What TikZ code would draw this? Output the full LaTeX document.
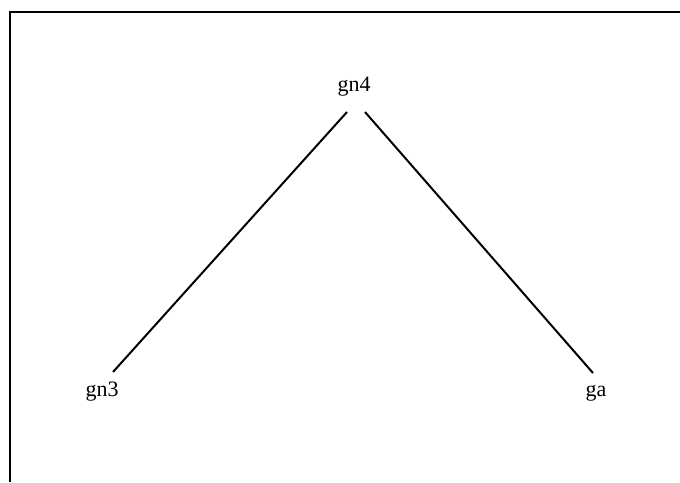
\documentclass[tikz,border=0pt]{standalone}
\usepackage{fontspec}
\setmainfont{Liberation Serif}
\begin{document}
\begin{tikzpicture}[x=1pt,y=-1pt,
  lbl/.style={anchor=base,inner sep=0pt,font=\fontsize{22}{22}\selectfont},
  edge/.style={line width=2pt},
  frame/.style={line width=2.2pt}]
\useasboundingbox (0,0) rectangle (680,482);
\draw[frame] (10,482) -- (10,12) -- (680,12);
\node[lbl] (gn4) at (354,91) {gn4};
\node[lbl] (gn3) at (102,396) {gn3};
\node[lbl] (ga) at (596,396) {ga};
\coordinate (gn4l) at (347,112);
\coordinate (gn4r) at (365,112);
\coordinate (gn3t) at (113,372);
\coordinate (gat) at (593,373);
\draw[edge] (gn4l) -- (gn3t);
\draw[edge] (gn4r) -- (gat);
\end{tikzpicture}
\end{document}
